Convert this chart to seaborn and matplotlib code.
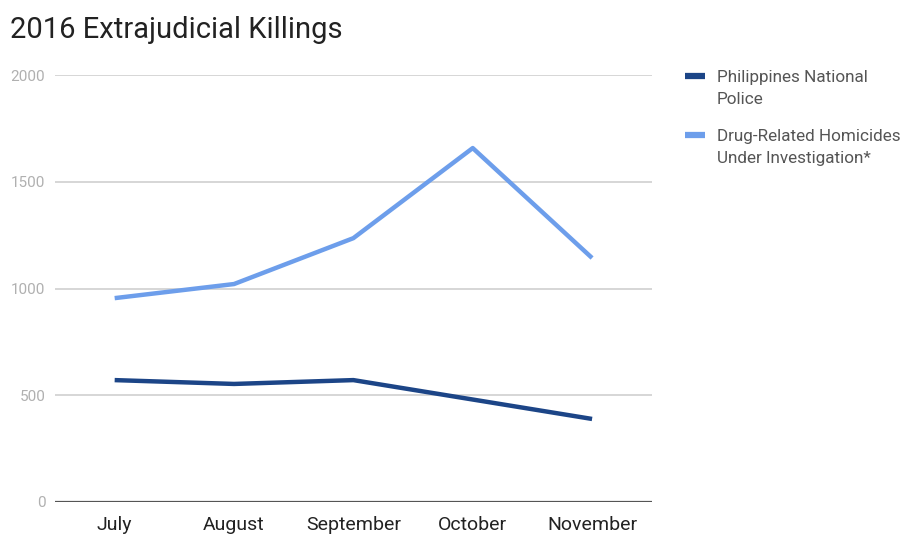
import matplotlib
matplotlib.use("Agg")
import matplotlib.pyplot as plt
import seaborn as sns
import pandas as pd
from matplotlib.lines import Line2D

months = ["July", "August", "September", "October", "November"]
pnp_killings = [571, 553, 571, 480, 389]
homicides_under_investigation = [955, 1021, 1236, 1658, 1143]
series_names = ["Philippines National Police", "Drug-Related Homicides Under Investigation*"]
legend_labels = ["Philippines National\nPolice", "Drug-Related Homicides\nUnder Investigation*"]
y_ticks = [0, 500, 1000, 1500, 2000]

colors = ["#1c4587", "#6d9eeb"]

df = pd.DataFrame({
    "month": months * 2,
    "pos": list(range(len(months))) * 2,
    "value": pnp_killings + homicides_under_investigation,
    "series": [series_names[0]] * len(months) + [series_names[1]] * len(months),
})

sns.set_style("white")
plt.rcParams["font.family"] = ["Roboto", "DejaVu Sans"]

fig = plt.figure(figsize=(9.09, 5.35), dpi=100)
ax = fig.add_axes([0.0605, 0.0617, 0.6565, 0.798])

sns.lineplot(data=df, x="pos", y="value", hue="series", palette=colors,
             linewidth=3.2, legend=False, ax=ax, solid_capstyle="butt")

ax.set_xlim(-0.5, 4.5)
ax.set_ylim(0, 2000)
ax.set_xticks(range(len(months)))
ax.set_xticklabels(months, fontsize=14, color="#222222")
ax.set_yticks(y_ticks)
ax.set_yticklabels([str(t) for t in y_ticks], fontsize=11, color="#b0b0b0")
ax.tick_params(axis="both", length=0)
ax.tick_params(axis="x", pad=10)
ax.tick_params(axis="y", pad=7)
ax.set_xlabel("")
ax.set_ylabel("")

for t in y_ticks[1:]:
    ax.axhline(t, color="#cccccc", linewidth=1.1, zorder=0)
ax.axhline(0, color="#555555", linewidth=1.6, zorder=1)
for s in ax.spines.values():
    s.set_visible(False)

fig.text(0.011, 0.943, "2016 Extrajudicial Killings", fontsize=21,
         color="#222222", ha="left", va="center")

# Legend: swatch aligned with the first line of each wrapped label
legend_tops = [0.8685, 0.7585]
for label, color, top in zip(legend_labels, colors, legend_tops):
    swatch_y = top - 0.0105
    fig.add_artist(Line2D([0.7536, 0.7756], [swatch_y, swatch_y], color=color,
                          linewidth=4.5, solid_capstyle="butt",
                          transform=fig.transFigure))
    fig.text(0.7888, top, label, fontsize=12.3, color="#555555",
             ha="left", va="top", linespacing=1.55)

fig.savefig("out.png", dpi=100, facecolor="white")
